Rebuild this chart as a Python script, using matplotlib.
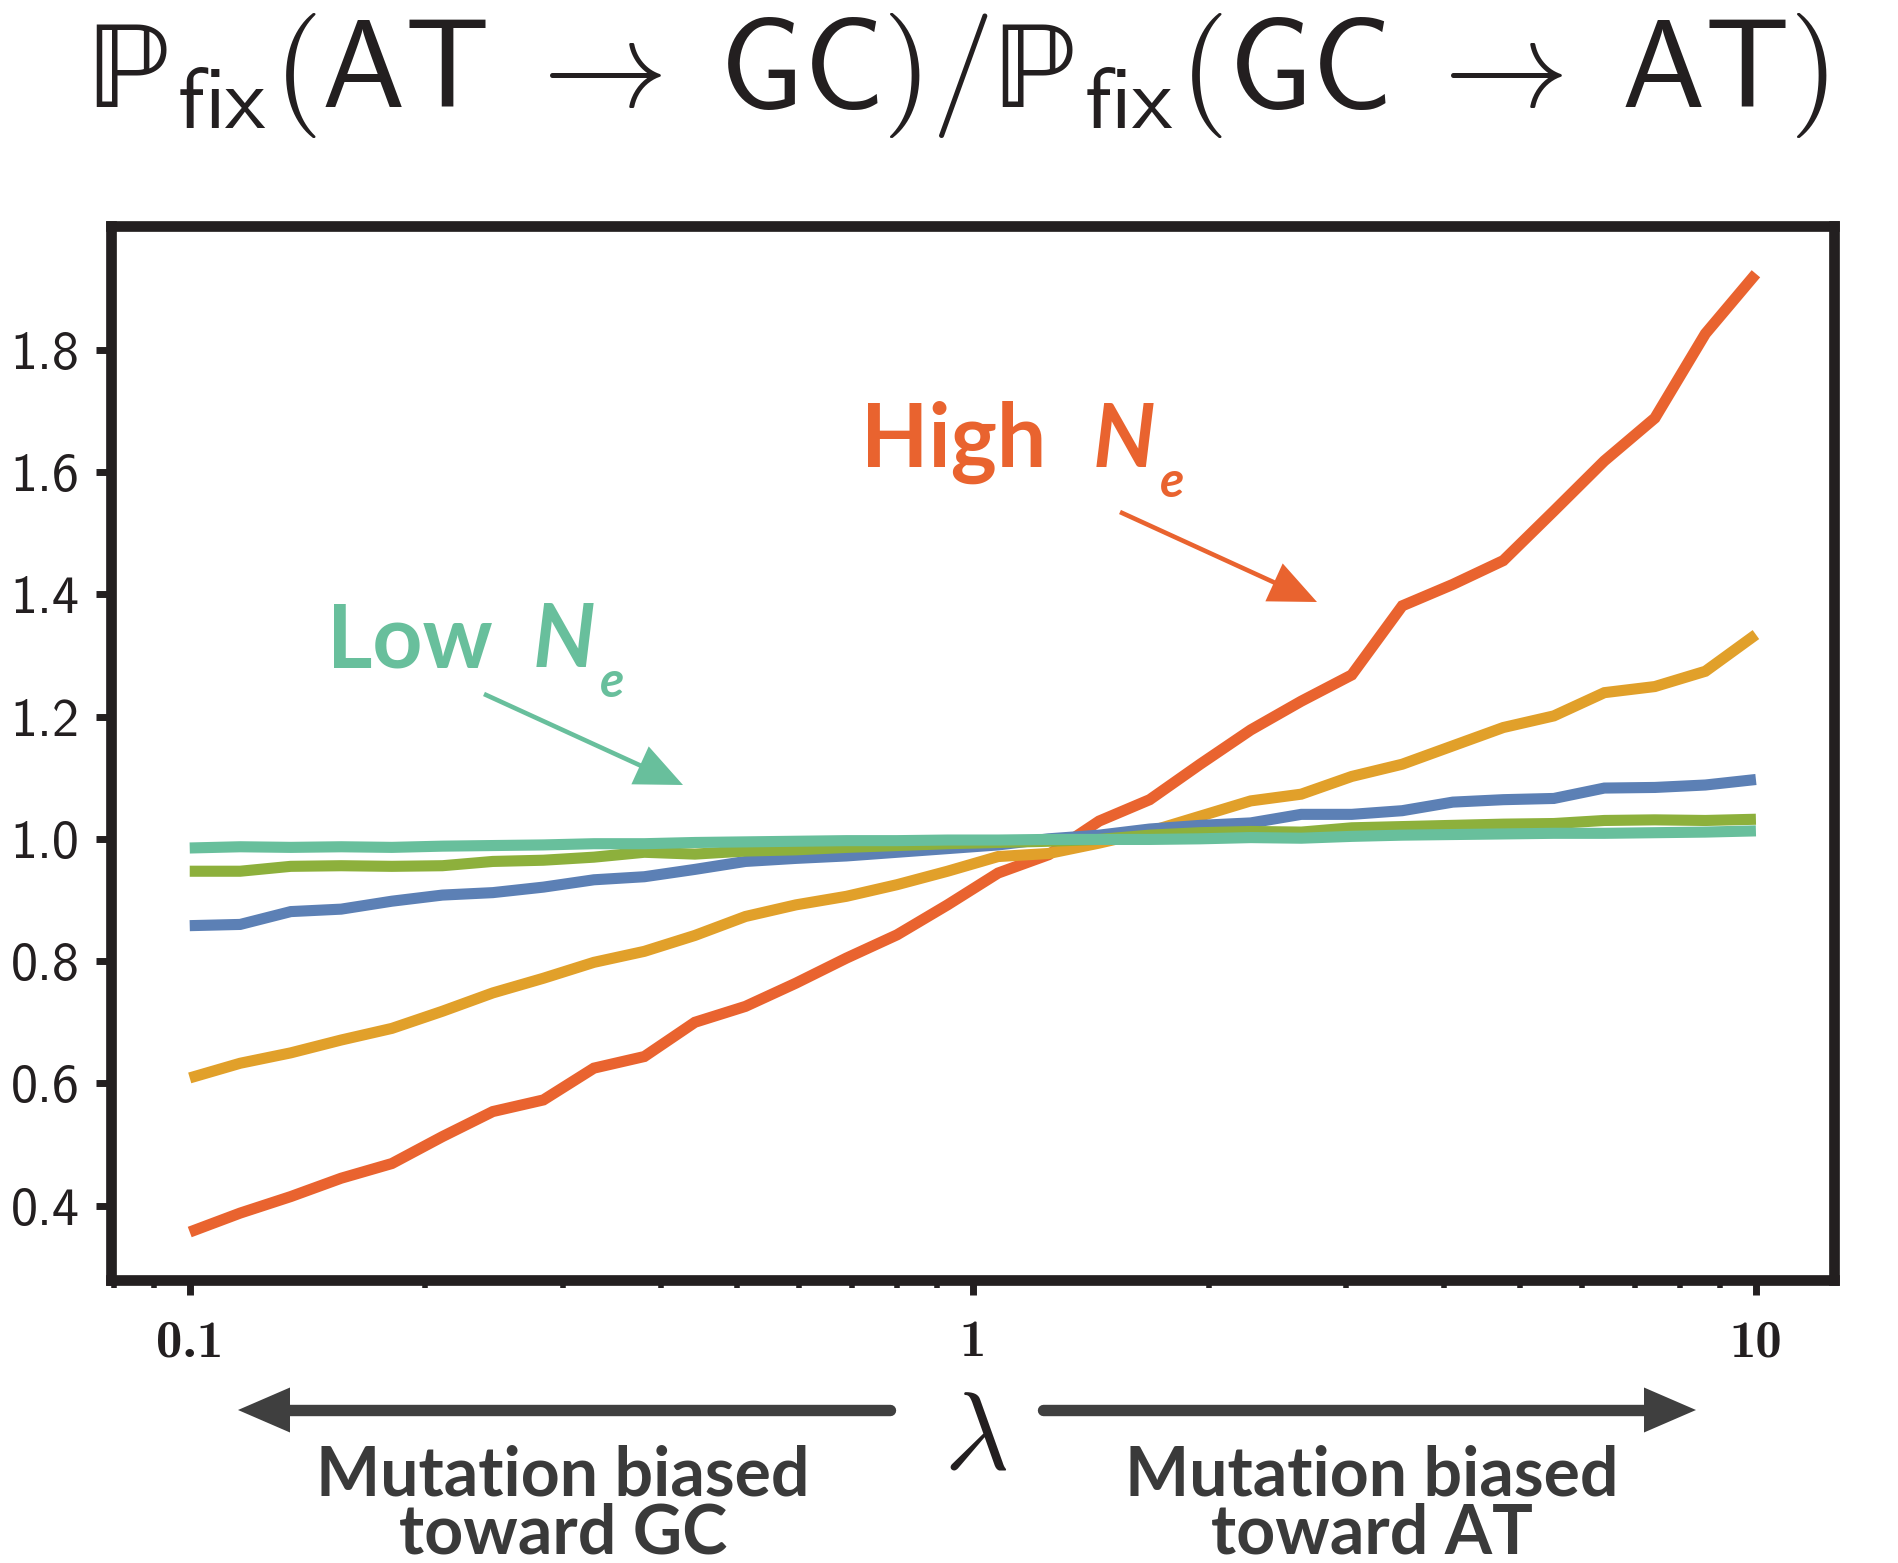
import matplotlib
matplotlib.use("Agg")
import matplotlib.pyplot as plt
from matplotlib.lines import Line2D
from matplotlib.patches import Polygon, FancyArrowPatch

plt.rcParams['mathtext.fontset'] = 'cm'

# ---------------- data ----------------
lam = [0.1, 0.1160, 0.1346, 0.1561, 0.1812, 0.2102, 0.2438, 0.2829,
       0.3282, 0.3807, 0.4417, 0.5125, 0.5945, 0.6898, 0.8003, 0.9284,
       1.0771, 1.2496, 1.4497, 1.6820, 1.9513, 2.2638, 2.6264, 3.0470,
       3.5350, 4.1011, 4.7580, 5.5200, 6.4041, 7.4297, 8.6195, 10.0]

high_ne = [0.357, 0.388, 0.415, 0.445, 0.469, 0.513, 0.554, 0.573,
           0.625, 0.644, 0.700, 0.726, 0.764, 0.805, 0.843, 0.892,
           0.944, 0.974, 1.029, 1.064, 1.122, 1.178, 1.225, 1.268,
           1.381, 1.416, 1.455, 1.536, 1.618, 1.688, 1.826, 1.924]

mid_high_ne = [0.609, 0.633, 0.650, 0.671, 0.690, 0.718, 0.748, 0.772,
               0.798, 0.816, 0.842, 0.873, 0.892, 0.906, 0.925, 0.947,
               0.971, 0.976, 0.993, 1.012, 1.037, 1.062, 1.073, 1.102,
               1.122, 1.152, 1.182, 1.201, 1.239, 1.249, 1.274, 1.334]

mid_ne = [0.858, 0.860, 0.881, 0.885, 0.898, 0.908, 0.912, 0.921,
          0.933, 0.938, 0.950, 0.963, 0.968, 0.972, 0.978, 0.984,
          0.990, 1.000, 1.006, 1.016, 1.022, 1.026, 1.040, 1.040,
          1.046, 1.060, 1.064, 1.066, 1.083, 1.084, 1.088, 1.097]

mid_low_ne = [0.947, 0.947, 0.955, 0.956, 0.955, 0.956, 0.963, 0.965,
              0.970, 0.978, 0.975, 0.980, 0.982, 0.986, 0.989, 0.992,
              0.994, 0.996, 0.999, 1.006, 1.010, 1.012, 1.011, 1.018,
              1.020, 1.022, 1.024, 1.025, 1.030, 1.031, 1.030, 1.032]

low_ne = [0.985, 0.987, 0.986, 0.987, 0.986, 0.988, 0.989, 0.990,
          0.992, 0.992, 0.994, 0.995, 0.996, 0.997, 0.997, 0.998,
          0.998, 0.999, 0.999, 0.999, 1.000, 1.002, 1.001, 1.004,
          1.006, 1.007, 1.008, 1.009, 1.009, 1.010, 1.011, 1.013]

series_colors = ['#E9632F', '#E1A02A', '#5C80B5', '#8DB03C', '#68BF9C']

y_ticks = [0.4, 0.6, 0.8, 1.0, 1.2, 1.4, 1.6, 1.8]
y_ticklabels = ['0.4', '0.6', '0.8', '1.0', '1.2', '1.4', '1.6', '1.8']
x_ticks = [0.1, 1, 10]
x_ticklabels = ['0.1', '1', '10']

# ---------------- figure ----------------
W, H = 1898, 1563
fig = plt.figure(figsize=(W / 100, H / 100), dpi=100)


def px(x, y):
    return (x / W, 1 - y / H)


ax = fig.add_axes([0.0587, 0.1811, 0.9077, 0.6744])

for ys, c in zip([high_ne, mid_high_ne, mid_ne, mid_low_ne, low_ne], series_colors):
    ax.plot(lam, ys, color=c, lw=8, solid_capstyle='butt', solid_joinstyle='miter')

ax.set_xscale('log')
ax.set_yticks(y_ticks)
ax.set_yticklabels(y_ticklabels, fontsize=39, family='cmss10', color='#231f20')
ax.set_xticks(x_ticks)
ax.set_xticklabels(x_ticklabels, fontsize=38, family='cmb10', color='#231f20')

for s in ax.spines.values():
    s.set_linewidth(7.7)
    s.set_color('#231f20')

ax.tick_params(axis='both', which='major', length=11, width=5, color='#231f20', direction='out')
ax.tick_params(axis='y', pad=12)
ax.tick_params(axis='x', which='major', pad=18)
ax.tick_params(axis='x', which='minor', length=6, width=4, color='#231f20')
ax.tick_params(axis='y', which='minor', length=0)

# ---------------- title ----------------
title = (r'$\mathrm{\mathbb{P}}_{\mathsf{fix}}(\mathsf{AT}\;\rightarrow\;\mathsf{GC})/'
         r'\mathrm{\mathbb{P}}_{\mathsf{fix}}(\mathsf{GC}\;\rightarrow\;\mathsf{AT})$')
fig.text(*px(958, 107), title, ha='center', va='baseline', fontsize=90, color='#231f20')

# ---------------- annotations ----------------
red = series_colors[0]
teal = series_colors[4]
lato = 'Lato'

fig.text(*px(861, 467), 'High', fontsize=63, fontweight='bold', family=lato, color=red,
         ha='left', va='baseline')
fig.text(*px(1093, 467), 'N', fontsize=63, fontweight='bold', style='italic', family=lato,
         color=red, ha='left', va='baseline')
fig.text(*px(1160, 497), 'e', fontsize=36, fontweight='bold', style='italic', family=lato,
         color=red, ha='left', va='baseline')

fig.text(*px(327, 667), 'Low', fontsize=63, fontweight='bold', family=lato, color=teal,
         ha='left', va='baseline')
fig.text(*px(533, 667), 'N', fontsize=63, fontweight='bold', style='italic', family=lato,
         color=teal, ha='left', va='baseline')
fig.text(*px(600, 697), 'e', fontsize=36, fontweight='bold', style='italic', family=lato,
         color=teal, ha='left', va='baseline')


def thin_arrow(p0, p1, color):
    a = FancyArrowPatch(px(*p0), px(*p1), transform=fig.transFigure,
                        arrowstyle='simple,head_length=34,head_width=30,tail_width=3.3',
                        mutation_scale=1, color=color, lw=0, shrinkA=0, shrinkB=0)
    fig.add_artist(a)


thin_arrow((1120, 512), (1317, 602), red)
thin_arrow((484, 694), (683, 785), teal)

# ---------------- bottom lambda arrows ----------------
gray = '#3F3F3F'
yb = 1410
fig.add_artist(Line2D([890 / W, 289 / W], [1 - yb / H] * 2, lw=8.2, color=gray,
                      solid_capstyle='round', transform=fig.transFigure))
fig.add_artist(Polygon([px(238, yb), px(290, yb - 22.5), px(290, yb + 22.5)], closed=True,
                       color=gray, lw=0, transform=fig.transFigure))
fig.add_artist(Line2D([1043 / W, 1645 / W], [1 - yb / H] * 2, lw=8.2, color=gray,
                      solid_capstyle='round', transform=fig.transFigure))
fig.add_artist(Polygon([px(1696, yb), px(1644, yb - 22.5), px(1644, yb + 22.5)], closed=True,
                       color=gray, lw=0, transform=fig.transFigure))

fig.text(*px(976, 1438), r'$\lambda$', fontsize=80, ha='center', va='center', color='#231f20')

txt_gray = '#3A3A3A'
for cx, label in [(563, 'Mutation biased\ntoward GC'), (1372, 'Mutation biased\ntoward AT')]:
    fig.text(*px(cx, 1553), label, fontsize=49, fontweight='bold', family=lato,
             color=txt_gray, ha='center', va='baseline', multialignment='center',
             linespacing=0.9)

fig.savefig('out.png', dpi=100)
